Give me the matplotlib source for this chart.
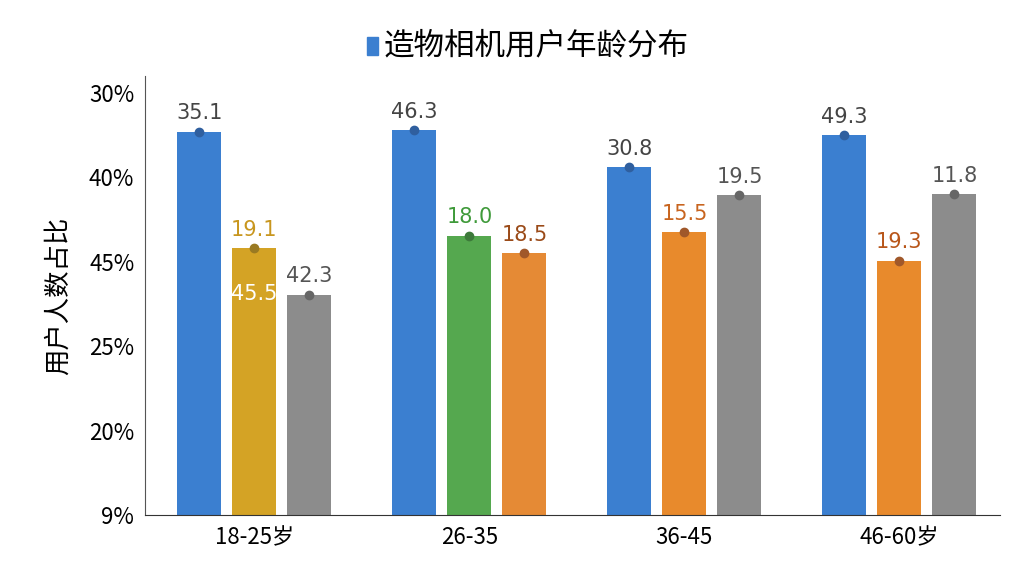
import matplotlib
matplotlib.use("Agg")
import matplotlib.pyplot as plt
from matplotlib.patches import Rectangle

plt.rcParams['font.family'] = ['Noto Sans CJK SC', 'DejaVu Sans']

categories = ["18-25岁", "26-35", "36-45", "46-60岁"]
ytick_labels = ["9%", "20%", "25%", "45%", "40%", "30%"]
# bar heights in tick-step units
heights = [[4.54, 3.16, 2.61], [4.56, 3.31, 3.10], [4.12, 3.35, 3.79], [4.50, 3.01, 3.80]]
labels = [["35.1", "19.1", "42.3"], ["46.3", "18.0", "18.5"], ["30.8", "15.5", "19.5"], ["49.3", "19.3", "11.8"]]
colors = [["#3b7fd0", "#d4a325", "#8c8c8c"], ["#3b7fd0", "#55a84f", "#e58a35"],
          ["#3b7fd0", "#e88a2c", "#8c8c8c"], ["#3b7fd0", "#e88a2c", "#8c8c8c"]]
label_colors = [["#444444", "#c8961e", "#555555"], ["#444444", "#3f9a3a", "#9a4a18"],
                ["#444444", "#c8641e", "#555555"], ["#444444", "#b8561a", "#555555"]]
dot_colors = [["#2f5f9f", "#9a7a22", "#666666"], ["#2f5f9f", "#3d7a3a", "#a0582a"],
              ["#2f5f9f", "#a0582a", "#666666"], ["#2f5f9f", "#a0582a", "#666666"]]

fig = plt.figure(figsize=(10.24, 5.76), dpi=100)
ax = fig.add_axes([0.142, 0.106, 0.835, 0.762])
w, off = 0.205, 0.256
for i in range(len(categories)):
    for j in range(3):
        x = i + (j - 1) * off
        h = heights[i][j]
        ax.bar(x, h, width=w, color=colors[i][j], zorder=2)
        ax.plot(x, h, 'o', color=dot_colors[i][j], ms=6, zorder=3)
        ax.text(x, h + 0.1, labels[i][j], ha='center', va='bottom', fontsize=15,
                color=label_colors[i][j], family=['DejaVu Sans'])
ax.text(0, 2.62, "45.5", ha='center', va='center', fontsize=15, color='white', family=['DejaVu Sans'])

ax.set_xlim(-0.507, 3.47)
ax.set_ylim(0, 5.2)
ax.set_yticks(range(6))
ax.set_yticklabels(ytick_labels, fontsize=16)
ax.set_xticks(range(4))
ax.set_xticklabels(categories, fontsize=16)
for s in ['top', 'right']:
    ax.spines[s].set_visible(False)
ax.spines['left'].set_color('#555555')
ax.spines['bottom'].set_color('#333333')
ax.tick_params(axis='both', length=0, pad=8)
ax.set_ylabel("用户人数占比", fontsize=19, labelpad=12)

fig.patches.append(Rectangle((0.358, 0.905), 0.011, 0.03, transform=fig.transFigure, color="#3b7fd0"))
fig.text(0.375, 0.92, "造物相机用户年龄分布", fontsize=22, va='center', ha='left')

fig.savefig("out.png", dpi=100)
